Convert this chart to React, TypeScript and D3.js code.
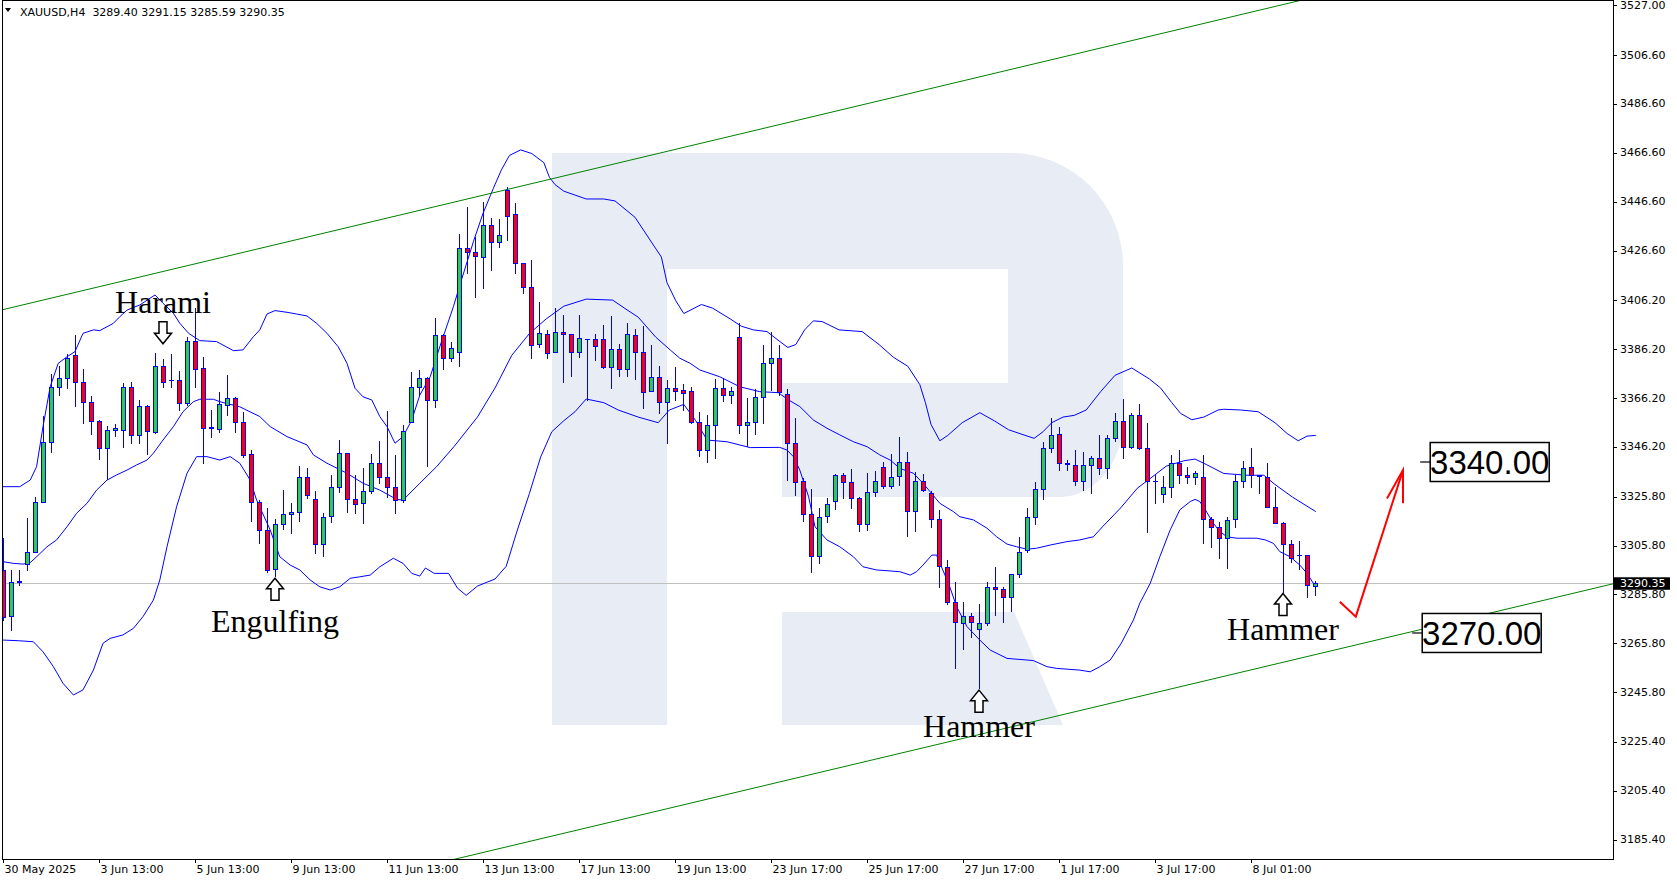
import React from 'react';
import * as d3 from 'd3';

// ---------- DATA ----------
const barOpen = [
  3295.8, 3276.9, 3290.8, 3298.2, 3303.3, 3323.5, 3348.1, 3370.6, 3374.3, 3383.7,
  3372.6, 3364.7, 3356.7, 3345.6, 3353.0, 3353.0, 3370.6, 3350.9, 3362.8, 3352.4,
  3379.2, 3373.5, 3373.6, 3364.0, 3389.5, 3378.4, 3354.0, 3353.4, 3363.5, 3366.1,
  3356.5, 3343.2, 3323.5, 3312.2, 3296.1, 3314.5, 3318.6, 3319.4, 3333.7, 3324.7,
  3306.4, 3317.9, 3329.6, 3343.6, 3324.7, 3323.1, 3328.3, 3339.5, 3333.7, 3329.9,
  3324.4, 3356.5, 3370.9, 3374.3, 3365.4, 3392.0, 3382.5, 3385.2, 3427.5, 3425.8,
  3424.1, 3437.0, 3430.2, 3451.4, 3441.4, 3421.3, 3411.8, 3388.2, 3392.3, 3385.2,
  3393.4, 3392.3, 3385.2, 3390.2, 3390.2, 3390.2, 3378.8, 3386.1, 3378.1, 3392.0,
  3384.9, 3369.1, 3374.7, 3364.4, 3370.2, 3369.3, 3369.1, 3356.2, 3344.9, 3355.0,
  3370.2, 3367.4, 3391.3, 3355.2, 3356.5, 3366.5, 3380.4, 3382.4, 3367.7, 3347.7,
  3332.2, 3318.6, 3301.6, 3318.0, 3324.2, 3334.7, 3331.7, 3325.1, 3314.5, 3327.9,
  3337.8, 3330.2, 3334.3, 3340.1, 3319.9, 3332.4, 3327.2, 3316.5, 3297.1, 3282.8,
  3273.9, 3277.1, 3271.5, 3273.9, 3288.9, 3287.9, 3284.6, 3294.0, 3303.9, 3317.6,
  3328.8, 3345.6, 3351.3, 3339.5, 3338.6, 3332.1, 3338.6, 3341.5, 3337.4, 3349.7,
  3356.9, 3346.0, 3359.2, 3345.6, 3332.2, 3326.8, 3329.9, 3339.5, 3334.5, 3333.7,
  3333.7, 3316.5, 3313.2, 3308.7, 3316.5, 3332.2, 3338.1, 3334.5, 3334.0, 3321.7,
  3315.2, 3306.3, 3302.0, 3301.8, 3289.40,
];
const barHigh = [
  3308.7, 3295.8, 3295.8, 3316.9, 3325.8, 3358.8, 3375.9, 3379.3, 3384.1, 3392.0,
  3377.9, 3367.0, 3357.2, 3354.7, 3355.6, 3372.2, 3372.8, 3365.4, 3363.2, 3384.5,
  3382.2, 3384.2, 3377.4, 3391.0, 3402.9, 3382.9, 3361.3, 3368.5, 3375.6, 3366.5,
  3360.6, 3344.9, 3324.4, 3321.0, 3316.5, 3328.5, 3323.1, 3338.4, 3337.4, 3328.1,
  3319.0, 3334.7, 3349.0, 3343.8, 3334.7, 3337.4, 3343.3, 3348.6, 3361.0, 3342.9,
  3355.2, 3377.0, 3377.7, 3375.0, 3398.8, 3392.6, 3389.0, 3433.4, 3444.6, 3432.3,
  3446.6, 3440.1, 3439.4, 3452.7, 3446.2, 3421.5, 3422.7, 3405.7, 3394.1, 3402.9,
  3400.2, 3392.5, 3400.2, 3390.4, 3392.4, 3396.1, 3399.8, 3388.3, 3396.8, 3394.3,
  3395.8, 3387.9, 3379.3, 3373.6, 3378.8, 3371.9, 3370.6, 3360.6, 3359.3, 3373.9,
  3374.3, 3370.8, 3396.8, 3366.1, 3369.9, 3387.9, 3393.4, 3387.9, 3369.8, 3357.9,
  3333.3, 3328.9, 3321.0, 3325.1, 3335.0, 3335.4, 3337.0, 3325.8, 3335.4, 3336.3,
  3340.1, 3343.3, 3350.1, 3344.0, 3336.0, 3335.1, 3328.3, 3320.3, 3299.9, 3290.7,
  3282.5, 3278.3, 3281.7, 3291.0, 3296.9, 3288.7, 3294.3, 3309.2, 3321.0, 3331.9,
  3348.3, 3357.9, 3354.2, 3340.8, 3344.9, 3344.2, 3342.6, 3351.1, 3351.1, 3360.2,
  3365.7, 3359.9, 3363.7, 3355.8, 3334.7, 3334.3, 3342.9, 3344.9, 3337.8, 3336.3,
  3342.9, 3317.6, 3315.6, 3317.6, 3334.7, 3340.5, 3345.6, 3334.7, 3339.7, 3329.9,
  3315.6, 3308.1, 3307.8, 3302.0, 3291.15,
];
const barLow = [
  3275.3, 3271.2, 3289.5, 3295.8, 3303.3, 3323.5, 3344.2, 3367.4, 3370.4, 3363.1,
  3356.1, 3351.3, 3341.1, 3332.9, 3350.6, 3346.3, 3347.9, 3347.6, 3343.3, 3352.0,
  3370.6, 3370.6, 3361.3, 3363.3, 3370.9, 3339.5, 3350.4, 3352.4, 3359.3, 3352.4,
  3342.2, 3316.0, 3307.0, 3295.1, 3293.3, 3312.4, 3310.8, 3316.0, 3325.1, 3302.9,
  3301.5, 3315.6, 3327.9, 3319.7, 3319.3, 3315.2, 3327.2, 3331.3, 3325.8, 3319.3,
  3323.8, 3356.3, 3367.4, 3338.4, 3362.4, 3377.9, 3381.5, 3379.3, 3417.5, 3407.7,
  3411.4, 3418.6, 3428.2, 3430.9, 3417.5, 3409.3, 3382.5, 3387.2, 3382.7, 3385.0,
  3372.9, 3375.2, 3383.1, 3365.4, 3381.8, 3378.6, 3370.4, 3375.4, 3375.4, 3373.9,
  3362.2, 3368.9, 3359.9, 3347.7, 3365.4, 3361.3, 3356.0, 3342.6, 3340.1, 3341.8,
  3365.1, 3364.3, 3351.7, 3346.6, 3351.3, 3355.8, 3369.5, 3367.4, 3332.6, 3326.5,
  3316.0, 3295.1, 3298.5, 3315.6, 3320.8, 3325.1, 3321.0, 3311.9, 3312.2, 3326.1,
  3329.2, 3329.2, 3330.6, 3309.8, 3311.9, 3328.3, 3313.3, 3289.0, 3281.7, 3255.8,
  3263.4, 3268.5, 3247.3, 3273.3, 3277.4, 3274.6, 3279.1, 3292.8, 3303.3, 3314.5,
  3324.9, 3344.2, 3336.7, 3336.7, 3330.6, 3328.4, 3327.5, 3335.0, 3333.6, 3348.7,
  3341.5, 3345.6, 3345.2, 3311.5, 3323.1, 3323.5, 3325.8, 3331.3, 3331.3, 3331.0,
  3306.7, 3305.1, 3300.6, 3296.5, 3313.2, 3329.6, 3329.6, 3327.2, 3321.4, 3314.9,
  3286.9, 3299.2, 3296.1, 3284.9, 3285.59,
];
const barClose = [
  3276.7, 3290.7, 3291.2, 3303.3, 3323.5, 3348.1, 3370.6, 3374.3, 3382.4, 3372.6,
  3364.7, 3356.7, 3345.6, 3353.0, 3353.8, 3370.6, 3350.9, 3362.8, 3352.7, 3379.2,
  3372.6, 3373.6, 3364.0, 3389.5, 3377.9, 3353.9, 3354.2, 3363.6, 3366.1, 3356.5,
  3342.9, 3323.5, 3312.2, 3295.8, 3314.5, 3318.6, 3319.4, 3333.7, 3326.5, 3306.4,
  3317.4, 3329.6, 3343.6, 3324.7, 3322.8, 3328.3, 3339.5, 3333.7, 3329.9, 3324.4,
  3352.8, 3370.9, 3374.3, 3365.4, 3392.0, 3382.5, 3386.6, 3427.5, 3425.8, 3424.4,
  3437.0, 3430.2, 3433.0, 3440.9, 3421.3, 3411.8, 3387.9, 3392.7, 3384.5, 3393.4,
  3392.4, 3385.2, 3390.6, 3390.3, 3387.6, 3378.8, 3386.1, 3378.1, 3392.3, 3384.9,
  3368.5, 3374.7, 3364.4, 3370.2, 3369.2, 3368.4, 3356.2, 3344.9, 3355.0, 3370.2,
  3367.4, 3369.1, 3355.2, 3356.5, 3366.5, 3380.4, 3382.4, 3368.5, 3347.7, 3331.9,
  3318.7, 3301.6, 3317.6, 3322.7, 3334.7, 3331.7, 3325.1, 3314.5, 3327.9, 3332.4,
  3330.2, 3334.0, 3340.1, 3319.9, 3332.4, 3328.5, 3316.5, 3297.4, 3282.8, 3274.3,
  3277.1, 3274.4, 3273.9, 3288.9, 3287.9, 3284.6, 3294.0, 3303.0, 3317.6, 3328.8,
  3345.6, 3351.1, 3339.5, 3339.3, 3332.1, 3338.6, 3341.5, 3337.4, 3349.7, 3356.9,
  3346.0, 3359.2, 3345.6, 3332.2, 3332.3, 3329.9, 3339.5, 3334.5, 3333.7, 3335.4,
  3316.5, 3313.2, 3308.7, 3316.3, 3332.2, 3337.4, 3334.7, 3334.4, 3321.7, 3315.2,
  3306.4, 3300.8, 3301.9, 3289.6, 3290.35,
];

// Bollinger bands: [bar index, price]
const bandUpper: [number, number][] = [
  [0, 3329.9], [2.1, 3329.9], [3.4, 3332.6], [4.2, 3338.1], [5.0, 3354.5], [5.9, 3370.8],
  [6.9, 3380.4], [8.0, 3383.1], [9.0, 3385.2], [10.0, 3392.7], [11.3, 3394.1], [12.1, 3393.8],
  [13.8, 3396.8], [14.6, 3399.5], [15.5, 3402.2], [17.1, 3404.3], [19.0, 3408.4], [20.0, 3405.0],
  [21.3, 3400.9], [22.1, 3396.8], [23.2, 3392.7], [24.6, 3389.7], [26.7, 3389.3], [28.8, 3385.6],
  [30.0, 3385.9], [31.3, 3391.3], [32.1, 3394.1], [33.0, 3400.6], [34.0, 3402.0], [35.5, 3401.3],
  [36.7, 3400.6], [38.0, 3399.8], [39.2, 3396.8], [40.5, 3392.7], [41.9, 3387.2], [43.0, 3380.4],
  [44.0, 3370.2], [45.0, 3366.7], [46.1, 3365.4], [47.1, 3358.6], [48.0, 3354.5], [49.0, 3347.7],
  [50.0, 3350.4], [51.1, 3357.2], [52.1, 3367.4], [53.4, 3374.9], [54.6, 3387.2], [56.3, 3403.6],
  [57.3, 3414.5], [58.8, 3430.2], [60.0, 3441.8], [61.3, 3452.1], [62.3, 3459.6], [63.3, 3465.5],
  [64.7, 3467.8], [66.1, 3466.3], [67.6, 3462.6], [68.3, 3456.6], [69.0, 3453.6], [70.1, 3450.9],
  [72.9, 3447.7], [75.1, 3447.7], [76.5, 3446.9], [79.0, 3440.2], [80.8, 3431.3], [82.3, 3423.9],
  [83.0, 3413.4], [84.1, 3406.0], [85.1, 3400.8], [87.3, 3404.5], [88.7, 3403.0], [90.9, 3398.6],
  [92.3, 3395.6], [93.8, 3394.1], [95.5, 3393.4], [97.0, 3389.6], [98.1, 3386.9], [99.1, 3388.1],
  [100.2, 3394.1], [101.3, 3397.8], [102.4, 3397.5], [104.5, 3394.1], [107.4, 3393.4], [109.5, 3388.1],
  [111.3, 3382.9], [113.1, 3379.2], [114.6, 3371.7], [115.3, 3364.3], [116.0, 3355.4], [117.1, 3348.7],
  [118.1, 3350.9], [119.9, 3356.1], [122.1, 3360.2], [123.9, 3356.9], [125.7, 3353.2], [127.5, 3351.2],
  [128.9, 3349.7], [130.0, 3352.4], [131.1, 3356.1], [132.5, 3358.4], [133.9, 3359.1], [135.4, 3361.3],
  [137.2, 3368.8], [139.0, 3375.5], [141.1, 3378.5], [143.3, 3374.0], [144.7, 3370.3], [146.1, 3364.3],
  [147.2, 3359.9], [148.6, 3357.3], [150.1, 3358.4], [151.9, 3361.3], [152.6, 3361.6], [154.7, 3361.3],
  [156.9, 3360.6], [159.0, 3356.1], [160.5, 3351.7], [161.9, 3348.7], [163.0, 3350.6], [164.1, 3350.9],
];
const bandMiddle: [number, number][] = [
  [0, 3299.2], [1.3, 3298.5], [2.5, 3298.2], [3.4, 3298.8], [4.2, 3301.2], [5.5, 3305.3],
  [6.7, 3308.1], [8.0, 3313.5], [9.2, 3319.0], [10.5, 3323.1], [11.7, 3328.5], [13.0, 3332.6],
  [14.2, 3334.7], [15.5, 3336.7], [16.7, 3338.8], [18.0, 3340.8], [18.8, 3343.6], [20.0, 3349.0],
  [21.3, 3354.5], [22.5, 3360.6], [23.8, 3364.7], [24.6, 3365.7], [26.3, 3365.7], [27.1, 3364.7],
  [29.6, 3362.6], [32.1, 3358.6], [33.4, 3354.5], [35.5, 3350.4], [38.0, 3347.0], [38.8, 3342.9],
  [40.5, 3339.5], [43.0, 3335.4], [45.0, 3331.3], [47.1, 3328.5], [49.2, 3324.7], [50.0, 3324.4],
  [52.1, 3331.3], [54.2, 3338.1], [56.4, 3346.4], [59.3, 3358.4], [61.5, 3370.3], [63.6, 3383.7],
  [65.8, 3392.6], [67.9, 3398.6], [70.1, 3403.8], [72.9, 3406.7], [76.2, 3406.3], [78.0, 3402.3],
  [79.4, 3399.3], [81.6, 3391.1], [83.4, 3385.9], [84.6, 3382.5], [85.9, 3380.4], [87.1, 3377.7],
  [89.6, 3374.9], [92.1, 3370.8], [94.6, 3368.8], [96.9, 3368.4], [98.2, 3365.4], [99.6, 3362.7],
  [101.3, 3357.2], [103.0, 3353.8], [104.6, 3351.1], [106.3, 3348.3], [108.0, 3346.3], [109.6, 3342.9],
  [110.9, 3340.8], [112.1, 3337.4], [113.8, 3335.4], [115.0, 3331.3], [115.9, 3327.8], [117.1, 3323.1],
  [118.8, 3319.7], [119.6, 3317.6], [121.3, 3316.3], [123.0, 3312.9], [124.2, 3309.4], [125.5, 3306.4],
  [126.7, 3305.3], [128.0, 3304.3], [129.2, 3304.7], [130.9, 3306.0], [133.0, 3307.4], [134.6, 3308.1],
  [136.3, 3309.4], [137.5, 3313.7], [139.7, 3321.2], [141.8, 3329.3], [143.3, 3333.0], [145.4, 3338.3],
  [147.6, 3340.5], [149.0, 3341.2], [150.4, 3339.0], [152.6, 3335.3], [155.5, 3334.6], [157.6, 3334.6],
  [159.0, 3330.8], [161.2, 3325.6], [164.1, 3319.7],
];
const bandLower: [number, number][] = [
  [0, 3267.1], [2.1, 3266.8], [3.8, 3266.4], [5.0, 3262.3], [6.3, 3256.2], [7.5, 3249.4],
  [8.8, 3244.6], [10.0, 3246.7], [11.3, 3254.8], [12.5, 3265.8], [13.4, 3267.8], [15.0, 3269.2],
  [16.3, 3271.9], [17.5, 3276.7], [18.8, 3283.5], [19.6, 3291.7], [20.5, 3305.3], [21.7, 3321.7],
  [23.0, 3335.4], [24.2, 3342.2], [25.5, 3342.2], [27.1, 3340.8], [28.4, 3342.2], [29.6, 3339.5],
  [30.9, 3332.6], [31.7, 3324.4], [33.4, 3312.2], [34.6, 3301.2], [35.9, 3297.8], [37.1, 3295.8],
  [38.4, 3291.7], [39.6, 3288.9], [40.9, 3287.6], [42.1, 3288.9], [43.4, 3292.4], [44.6, 3293.0],
  [45.9, 3293.7], [47.1, 3297.1], [48.8, 3300.6], [50.0, 3298.5], [51.1, 3294.4], [52.1, 3293.3],
  [52.8, 3296.6], [53.9, 3294.4], [55.7, 3294.4], [56.8, 3288.4], [57.9, 3285.4], [59.3, 3289.2],
  [61.5, 3292.1], [62.9, 3297.3], [64.3, 3312.2], [65.8, 3327.1], [67.2, 3342.0], [68.6, 3352.4],
  [70.1, 3356.9], [71.5, 3360.6], [72.9, 3365.8], [75.1, 3364.3], [76.9, 3361.3], [79.4, 3358.4],
  [81.9, 3356.1], [83.3, 3361.3], [85.1, 3363.6], [86.6, 3356.9], [88.0, 3349.0], [90.5, 3348.3],
  [93.4, 3345.9], [97.1, 3346.0], [98.0, 3344.9], [98.8, 3342.2], [99.6, 3336.7], [100.7, 3325.8],
  [101.5, 3313.5], [103.0, 3308.1], [104.6, 3305.3], [106.3, 3301.2], [107.5, 3297.1], [109.2, 3295.8],
  [112.1, 3295.1], [113.4, 3293.7], [114.2, 3295.1], [115.0, 3297.8], [116.1, 3301.9], [116.7, 3301.9],
  [117.3, 3297.1], [118.2, 3290.3], [119.2, 3280.8], [120.5, 3272.6], [122.1, 3267.1], [123.4, 3263.0],
  [125.5, 3259.6], [128.8, 3258.7], [130.5, 3256.2], [131.7, 3255.5], [134.6, 3254.8], [135.9, 3254.1],
  [137.1, 3256.2], [138.4, 3258.9], [139.8, 3265.9], [141.3, 3275.3], [142.1, 3282.2], [143.4, 3290.3],
  [144.6, 3301.2], [145.9, 3312.2], [147.1, 3320.4], [148.4, 3323.8], [149.0, 3324.7], [149.6, 3323.8],
  [150.3, 3320.4], [151.3, 3314.9], [152.1, 3311.5], [153.0, 3309.4], [154.2, 3308.8], [156.7, 3308.8],
  [157.8, 3308.1], [158.8, 3306.7], [159.6, 3303.3], [160.9, 3301.2], [162.1, 3297.8], [163.0, 3294.4],
  [163.8, 3290.3],
];

// Trend channel anchors: [bar index, price]
const channelUpper: [number, number][] = [[0, 3402.4], [160, 3527.3]];
const channelLower: [number, number][] = [[0, 3133.4], [160, 3258.0]];

// Forecast arrow: [bar index, price]
const forecastPath: [number, number][] = [[167.1, 3282.8], [169.1, 3276.7], [175.0, 3336.7]];
const forecastHead: [number, number][] = [[173.0, 3325.1], [175.0, 3336.7], [175.0, 3323.1]];

// Level boxes
const levelLabels = ['3340.00', '3270.00'];
const levelPrices = [3340.0, 3270.0];
const levelBars = [178.4, 177.4];

// Pattern annotations
const patternNames = ['Harami', 'Engulfing', 'Hammer', 'Hammer'];
const patternBars = [20, 34, 122, 160];
const patternArrowPrices = [3397.4, 3292.4, 3246.6, 3286.2];
const patternDirs = ['down', 'up', 'up', 'up'];
const patternTextGap = [8.4, 53.5, 46.5, 46.5];

// Axes
const timeLabels = [
  '30 May 2025', '3 Jun 13:00', '5 Jun 13:00', '9 Jun 13:00', '11 Jun 13:00', '13 Jun 13:00',
  '17 Jun 13:00', '19 Jun 13:00', '23 Jun 17:00', '25 Jun 17:00', '27 Jun 17:00', '1 Jul 17:00',
  '3 Jul 17:00', '8 Jul 01:00',
];
const timeLabelBars = [0, 12, 24, 36, 48, 60, 72, 84, 96, 108, 120, 132, 144, 156];
const priceTicks = [
  '3527.00', '3506.60', '3486.60', '3466.60', '3446.60', '3426.60', '3406.20', '3386.20', '3366.20',
  '3346.20', '3325.80', '3305.80', '3285.80', '3265.80', '3245.80', '3225.40', '3205.40', '3185.40',
];
const symbolTitle = 'XAUUSD,H4  3289.40 3291.15 3285.59 3290.35';
const lastPrice = 3290.35;

// ---------- CHART ----------
const W = 1677;
const H = 882;
const PL = 2;
const PR = 1613;
const PT = 0;
const PB = 859;

const BULL = '#32cd32';
const BEAR = '#ff0000';
const BLUE = '#0000ff';
const LOGO = '#e8edf5';

export default function App() {
  const x = d3.scaleLinear().domain([0, 164]).range([3, 1315]);
  const y = d3.scaleLinear().domain([3185.4, 3527]).range([839.6, 5.3]);
  const line = d3
    .line<[number, number]>()
    .x((d) => x(d[0]))
    .y((d) => y(d[1]));

  const extend = (pts: [number, number][]): [number, number][] => {
    const [a, b] = pts;
    const slope = (b[1] - a[1]) / (b[0] - a[0]);
    const b0 = -5;
    const b1 = 215;
    return [
      [b0, a[1] + slope * (b0 - a[0])],
      [b1, a[1] + slope * (b1 - a[0])],
    ];
  };

  const crisp = (v: number) => Math.round(v) + 0.5;

  const candles = barOpen.map((o, i) => {
    const c = barClose[i];
    const cx = Math.round(x(i));
    const yHi = y(barHigh[i]);
    const yLo = y(barLow[i]);
    const top = Math.round(y(Math.max(o, c)));
    const bot = Math.round(y(Math.min(o, c)));
    const h = bot - top;
    const fill = c > o ? BULL : c < o ? BEAR : 'none';
    return (
      <g key={i}>
        <line x1={cx + 0.5} x2={cx + 0.5} y1={Math.round(yHi)} y2={Math.round(yLo) + 1} stroke={BLUE} strokeWidth={1} />
        {h >= 1 ? (
          <rect x={cx - 1.5} y={top + 0.5} width={4} height={h} fill={fill} stroke={BLUE} strokeWidth={1} />
        ) : (
          <line x1={cx - 2} x2={cx + 3} y1={top + 0.5} y2={top + 0.5} stroke={BLUE} strokeWidth={1} />
        )}
      </g>
    );
  });

  const arrowPath = (cx: number, tip: number, dir: string) => {
    if (dir === 'up') {
      return `M${cx},${tip} L${cx + 8.5},${tip + 10.5} L${cx + 4},${tip + 10.5} L${cx + 4},${tip + 22} L${cx - 4},${tip + 22} L${cx - 4},${tip + 10.5} L${cx - 8.5},${tip + 10.5} Z`;
    }
    return `M${cx - 4},${tip} L${cx + 4},${tip} L${cx + 4},${tip + 11.5} L${cx + 8.5},${tip + 11.5} L${cx},${tip + 22} L${cx - 8.5},${tip + 11.5} L${cx - 4},${tip + 11.5} Z`;
  };

  const logoPath =
    'M552,153 H1011 A112,113 0 0 1 1123,266 V420 A63,77 0 0 1 1060,497 H782 V383 H1008 V269 H667 V725 H552 Z ' +
    'M782,612 H1014 L1063,725 H782 Z';

  return (
    <svg width={W} height={H} viewBox={`0 0 ${W} ${H}`} style={{ display: 'block' }} xmlns="http://www.w3.org/2000/svg">
      <style>{`body{margin:0;overflow:hidden}`}</style>
      <defs>
        <clipPath id="plot">
          <rect x={PL} y={PT} width={PR - PL} height={PB - PT} />
        </clipPath>
      </defs>
      <rect x={0} y={0} width={W} height={H} fill="#ffffff" />

      <g clipPath="url(#plot)">
        <path d={logoPath} fill={LOGO} fillRule="nonzero" />
        <line x1={PL} x2={PR} y1={crisp(y(lastPrice))} y2={crisp(y(lastPrice))} stroke="#c0c0c0" strokeWidth={1} />
        <path d={line(bandUpper) || ''} fill="none" stroke={BLUE} strokeWidth={1} />
        <path d={line(bandMiddle) || ''} fill="none" stroke={BLUE} strokeWidth={1} />
        <path d={line(bandLower) || ''} fill="none" stroke={BLUE} strokeWidth={1} />
        <path d={line(extend(channelUpper)) || ''} fill="none" stroke="#008000" strokeWidth={1} />
        <path d={line(extend(channelLower)) || ''} fill="none" stroke="#008000" strokeWidth={1} />
        {candles}

        {/* forecast arrow */}
        <path d={line(forecastPath) || ''} fill="none" stroke="#ff0000" strokeWidth={2} />
        <path d={line(forecastHead) || ''} fill="none" stroke="#ff0000" strokeWidth={2} />

        {/* level boxes */}
        {levelLabels.map((lbl, i) => {
          const left = x(levelBars[i]);
          const cy = y(levelPrices[i]);
          const bw = 119;
          const bh = 39;
          return (
            <g key={lbl}>
              <line x1={left - 10} x2={left} y1={cy} y2={cy} stroke="#000" strokeWidth={1.2} />
              <rect x={left} y={cy - bh / 2} width={bw} height={bh} fill="#ffffff" stroke="#000" strokeWidth={1.5} />
              <text x={left + bw / 2} y={cy + 12.3} textAnchor="middle" fontFamily="'Liberation Sans', Arial, sans-serif" fontSize={33} fill="#000">
                {lbl}
              </text>
            </g>
          );
        })}

        {/* pattern annotations */}
        {patternNames.map((name, i) => {
          const cx = x(patternBars[i]);
          const tip = y(patternArrowPrices[i]);
          const dir = patternDirs[i];
          const baseline = dir === 'up' ? tip + patternTextGap[i] : tip - patternTextGap[i];
          return (
            <g key={i}>
              <path d={arrowPath(cx, tip, dir)} fill="#ffffff" stroke="#000" strokeWidth={1.5} strokeLinejoin="miter" />
              <text x={cx} y={baseline} textAnchor="middle" fontFamily="'Liberation Serif', 'Times New Roman', serif" fontSize={32} fill="#000">
                {name}
              </text>
            </g>
          );
        })}
      </g>

      {/* header */}
      <path d="M5,8 L11,8 L8,12 Z" fill="#000" />
      <text x={20} y={16} fontFamily="'DejaVu Sans', sans-serif" fontSize={11} fill="#000" style={{ whiteSpace: 'pre' }}>
        {symbolTitle}
      </text>

      {/* frame */}
      <rect x={PL + 0.5} y={PT + 0.5} width={PR - PL} height={PB - PT} fill="none" stroke="#000" strokeWidth={1} />

      {/* price axis */}
      {priceTicks.map((t) => {
        const yy = y(+t);
        return (
          <g key={t}>
            <line x1={PR} x2={PR + 4} y1={crisp(yy)} y2={crisp(yy)} stroke="#000" strokeWidth={1} />
            <text x={1620} y={yy} dominantBaseline="central" fontFamily="'DejaVu Sans', sans-serif" fontSize={11} fill="#000">
              {t}
            </text>
          </g>
        );
      })}
      <rect x={1614} y={y(lastPrice) - 6} width={56} height={12.5} fill="#000" />
      <text x={1620} y={y(lastPrice)} dominantBaseline="central" fontFamily="'DejaVu Sans', sans-serif" fontSize={11} fill="#fff">
        {lastPrice.toFixed(2)}
      </text>

      {/* time axis */}
      {timeLabels.map((t, i) => {
        const xx = Math.round(x(timeLabelBars[i])) + 0.5;
        return (
          <g key={t}>
            <line x1={xx} x2={xx} y1={PB} y2={PB + 4} stroke="#000" strokeWidth={1} />
            <text x={xx + 1} y={873} fontFamily="'DejaVu Sans', sans-serif" fontSize={11} fill="#000">
              {t}
            </text>
          </g>
        );
      })}
    </svg>
  );
}
